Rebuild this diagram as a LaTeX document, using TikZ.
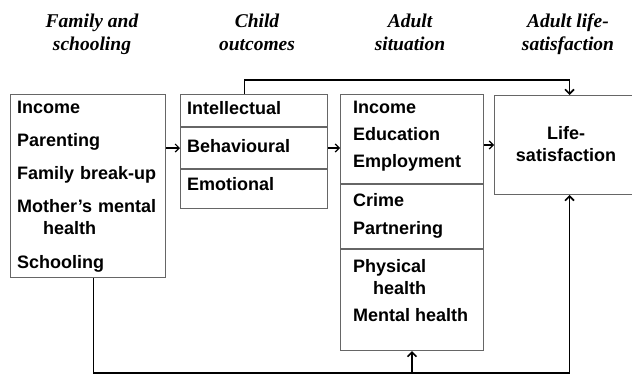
\documentclass[tikz,border=0pt]{standalone}
\usepackage{fontspec}
\setmainfont{Liberation Serif}
\setsansfont{Liberation Sans}
\usetikzlibrary{arrows.meta,calc}
\definecolor{FrameClr}{rgb}{0.4,0.4,0.4}

\tikzset{
  stage/.style={font=\bfseries\itshape\fontsize{19.5}{23}\selectfont,align=center,inner sep=0pt,anchor=north},
  frame/.style={draw=FrameClr,line width=1pt,rectangle,inner sep=0pt,anchor=north west},
  item/.style={font=\sffamily\bfseries\fontsize{18}{21.6}\selectfont,align=left,inner sep=0pt},
  link/.style={line width=1.6pt},
  feed/.style={line width=1.6pt,-{Straight Barb[length=4.5pt,width=9pt]}},
  hop/.style={line width=1.2pt,-{Straight Barb[length=4pt,width=8pt]}}
}

\begin{document}
\begin{tikzpicture}[x=1pt,y=-1pt]
\useasboundingbox (0,0) rectangle (632,375);

\node[stage] (famhead) at (92,13.5) {Family and\\schooling};
\node[stage] (childhead) at (257,13.5) {Child\\outcomes};
\node[stage] (adulthead) at (410,13.5) {Adult\\situation};
\node[stage] (lifehead) at (568,13.5) {Adult life-\\satisfaction};

\node[frame,minimum width=155,minimum height=183] (fam) at (10,94) {};

\node[frame,minimum width=147,minimum height=32] (intel) at (180,94) {};
\node[frame,minimum width=147,minimum height=41] (behav) at (intel.south west) {};
\node[frame,minimum width=147,minimum height=39] (emot) at (behav.south west) {};

\node[frame,minimum width=143,minimum height=89] (econ) at (340,94) {};
\node[frame,minimum width=143,minimum height=64] (socl) at (econ.south west) {};
\node[frame,minimum width=143,minimum height=101] (hlth) at (socl.south west) {};

\node[frame,minimum width=140,minimum height=99] (life) at (494,95) {};

\node[item,anchor=north west,text width=146] (famtxt) at (17,100.5)
  {Income\\[12pt]Parenting\\[11pt]Family break-up\\[12pt]Mother’s mental\\\hspace*{26pt}health\\[12pt]Schooling};

\node[item,anchor=base west] (inteltxt) at (187,114) {Intellectual};
\node[item,anchor=base west] (behavtxt) at (187,152) {Behavioural};
\node[item,anchor=base west] (emottxt) at (187,190) {Emotional};

\node[item,anchor=north west] (econtxt) at (353,100.5) {Income\\[6pt]Education\\[5pt]Employment};
\node[item,anchor=north west] (socltxt) at (353,193.5) {Crime\\[6pt]Partnering};
\node[item,anchor=north west] (hlthtxt) at (353,259.5) {Physical\\\hspace*{20pt}health\\[6pt]Mental health};

\node[item,align=center,font=\sffamily\bfseries\fontsize{18}{22}\selectfont] (lifetxt) at (566,144.5) {Life-\\satisfaction};

\draw[hop] (fam.east |- behav.west) -- (behav.west);
\draw[hop] (behav.east) -- (behav.east -| econ.west);
\draw[hop] (econ.east |- life.west) -- (life.west);

\coordinate (ridge) at (0,80);
\coordinate (floor) at (0,373);

\draw[feed] ([xshift=-9.5pt]intel.north) |- ([xshift=5pt]life.north |- ridge) -- ([xshift=5pt]life.north);

\draw[link] ([xshift=5.5pt]fam.south) |- ([xshift=5pt]life.south |- floor) coordinate (corner);
\draw[feed] (corner) -- ([xshift=5pt]life.south);
\draw[feed] (hlth.south |- floor) -- (hlth.south);

\end{tikzpicture}
\end{document}
